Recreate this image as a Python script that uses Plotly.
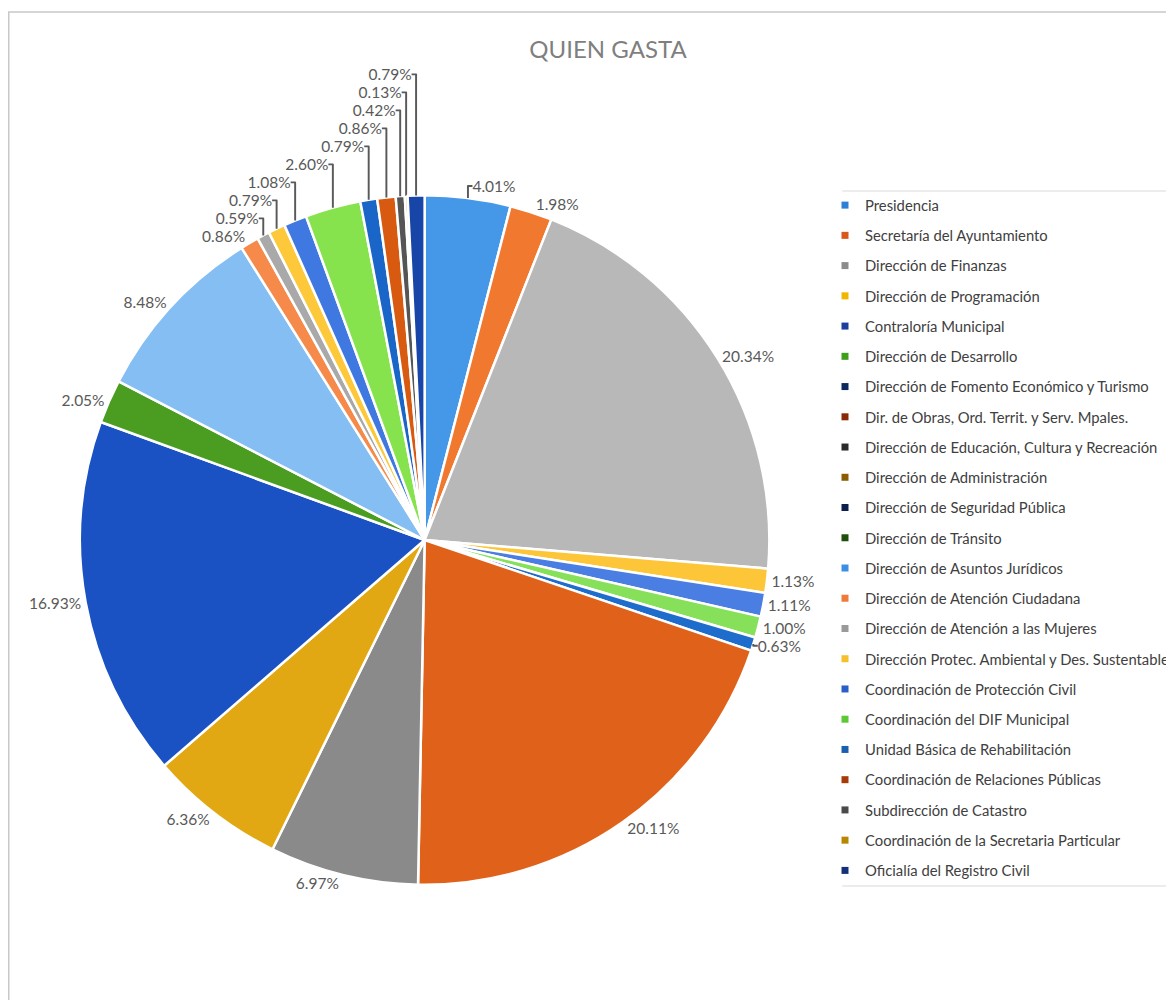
import plotly.graph_objects as go

categories = [
    "Presidencia",
    "Secretaría del Ayuntamiento",
    "Dirección de Finanzas",
    "Dirección de Programación",
    "Contraloría Municipal",
    "Dirección de Desarrollo",
    "Dirección de Fomento Económico y Turismo",
    "Dir. de Obras, Ord. Territ. y Serv. Mpales.",
    "Dirección de Educación, Cultura y Recreación",
    "Dirección de Administración",
    "Dirección de Seguridad Pública",
    "Dirección de Tránsito",
    "Dirección de Asuntos Jurídicos",
    "Dirección de Atención Ciudadana",
    "Dirección de Atención a las Mujeres",
    "Dirección Protec. Ambiental y Des. Sustentable",
    "Coordinación de Protección Civil",
    "Coordinación del DIF Municipal",
    "Unidad Básica de Rehabilitación",
    "Coordinación de Relaciones Públicas",
    "Subdirección de Catastro",
    "Coordinación de la Secretaria Particular",
    "Oficialía del Registro Civil",
]

percentages = [
    4.01, 1.98, 20.34, 1.13, 1.11, 1.00, 0.63, 20.11, 6.97, 6.36, 16.93,
    2.05, 8.48, 0.86, 0.59, 0.79, 1.08, 2.60, 0.79, 0.86, 0.42, 0.13, 0.79,
]

slice_colors = [
    "#4597e8", "#f0782f", "#b8b8b8", "#fdc638", "#4a7ee3", "#86e05a",
    "#1e6ccc", "#e0621a", "#8a8a8a", "#e2a814", "#1a52c4", "#4a9d20",
    "#84bef2", "#f58a4a", "#a9a9a9", "#fdc83a", "#3f78e0", "#86e34e",
    "#1a66c8", "#d85a10", "#555555", "#c49000", "#1846a8",
]

legend_colors = [
    "#2e7fd6", "#d9591a", "#8c8c8c", "#f2b600", "#1c3f9e", "#3f9e1c",
    "#0d2a5e", "#8a2a05", "#2b2b2b", "#8a5e00", "#0b1f4f", "#1f4f0b",
    "#3d8fe3", "#ef7a3a", "#9a9a9a", "#f5c02a", "#2a5fc8", "#5cc832",
    "#1a5fb0", "#a83a08", "#4a4a4a", "#b88700", "#14307a",
]

OFF = 8  # page offset of the plot div (body margin)
W, H = 1174 - OFF, 1008 - 2 * OFF
FONT = "Lato, 'Open Sans', sans-serif"


def px(x):
    return (x - OFF) / W


def py(y):
    return 1 - (y - OFF) / H


fig = go.Figure()

fig.add_trace(go.Pie(
    labels=categories,
    values=percentages,
    sort=False,
    direction="clockwise",
    rotation=0,
    marker=dict(colors=slice_colors, line=dict(color="white", width=2.5)),
    texttemplate="%{value:.2f}%",
    textposition="outside",
    textfont=dict(size=15.5, color="#595959", family=FONT),
    showlegend=False,
    hoverinfo="label+percent",
    domain=dict(x=[px(80), px(770)], y=[py(885), py(195)]),
))

for name, col in zip(categories, legend_colors):
    fig.add_trace(go.Scatter(
        x=[None], y=[None], mode="markers", name=name,
        legendgroup=name,
        marker=dict(symbol="square", size=7, color=col),
        hoverinfo="skip",
    ))

fig.update_layout(
    width=W, height=H,
    margin=dict(l=0, r=0, t=0, b=0),
    paper_bgcolor="white",
    plot_bgcolor="white",
    xaxis=dict(visible=False),
    yaxis=dict(visible=False),
    title=dict(
        text="QUIEN GASTA", x=px(608), y=py(50),
        xanchor="center", yanchor="middle",
        font=dict(size=24, color="#7f7f7f", family=FONT),
    ),
    legend=dict(
        x=px(826), y=py(189), xanchor="left", yanchor="top",
        font=dict(size=14.8, color="#404040", family=FONT),
        tracegroupgap=8,
        bgcolor="rgba(0,0,0,0)",
    ),
    shapes=[
        dict(type="rect", xref="paper", yref="paper",
             x0=px(8.75), x1=1.05, y0=-0.05, y1=py(12),
             line=dict(color="#c8c8c8", width=1.5)),
        dict(type="line", xref="paper", yref="paper",
             x0=px(843), x1=1.0, y0=py(191), y1=py(191),
             line=dict(color="#d9d9d9", width=1)),
        dict(type="line", xref="paper", yref="paper",
             x0=px(843), x1=1.0, y0=py(886), y1=py(886),
             line=dict(color="#d9d9d9", width=1)),
    ],
)

fig.write_html("out.html")
